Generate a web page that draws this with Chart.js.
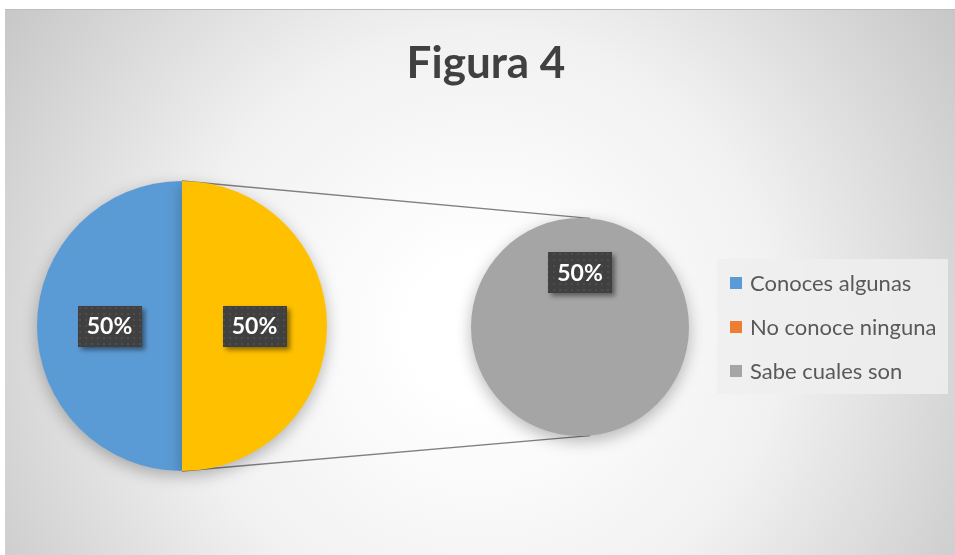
<!DOCTYPE html>
<html>
<head>
<meta charset="utf-8">
<script src="https://cdn.jsdelivr.net/npm/chart.js@4.4.1/dist/chart.umd.min.js"></script>
<style>
  html, body { margin: 0; padding: 0; background: #ffffff; }
  #wrap { position: relative; width: 955px; height: 555px; overflow: hidden; background: #ffffff; }
  #panel { position: absolute; left: 5px; top: 9px; width: 950px; height: 546px;
    background: radial-gradient(circle at 475px 320px, #ffffff 0px, #ffffff 70px, #f1f1f1 300px, #c6c6c6 580px);
    border-top: 1px solid #bdbdbd; box-sizing: border-box; }
  canvas.layer { position: absolute; left: 0; top: 0; }
</style>
</head>
<body>
<div id="wrap">
  <div id="panel"></div>
  <canvas id="cB" class="layer" width="955" height="555"></canvas>
  <canvas id="cA" class="layer" width="955" height="555"></canvas>
</div>
<script>
// ---- data ----
const chartTitle = 'Figura 4';
const categories = ['Conoces algunas', 'No conoce ninguna', 'Sabe cuales son'];
const values = [50, 0, 50];
const seriesColors = ['#5B9BD5', '#ED7D31', '#A5A5A5'];
const secondaryCategories = ['Sabe cuales son'];   // split into the second pie
const otherLabel = 'Otros';
const otherColor = '#FFC000';

// ---- derived ----
const total = values.reduce((a, b) => a + b, 0);
const primaryIdx = categories.map((c, i) => i).filter(i => !secondaryCategories.includes(categories[i]));
const secondaryIdx = categories.map((c, i) => i).filter(i => secondaryCategories.includes(categories[i]));
const primaryLabels = primaryIdx.map(i => categories[i]).concat([otherLabel]);
const primaryValues = primaryIdx.map(i => values[i]).concat([secondaryIdx.reduce((s, i) => s + values[i], 0)]);
const primaryColors = primaryIdx.map(i => seriesColors[i]).concat([otherColor]);
const secondaryLabels = secondaryIdx.map(i => categories[i]);
const secondaryValues = secondaryIdx.map(i => values[i]);
const secondaryColors = secondaryIdx.map(i => seriesColors[i]);

// dotted dark pattern for the data label boxes
const patCanvas = document.createElement('canvas');
patCanvas.width = 6; patCanvas.height = 6;
const pctx = patCanvas.getContext('2d');
pctx.fillStyle = '#404040'; pctx.fillRect(0, 0, 6, 6);
pctx.fillStyle = '#4d4d4d'; pctx.fillRect(1, 1, 2, 2);
let labelPattern = null;

const pieShadow = {
  id: 'pieShadow',
  beforeDatasetsDraw(chart) {
    const ctx = chart.ctx;
    ctx.save();
    ctx.shadowColor = 'rgba(0,0,0,0.28)';
    ctx.shadowBlur = 16;
    ctx.shadowOffsetY = 5;
  },
  afterDatasetsDraw(chart) { chart.ctx.restore(); }
};

const pctLabels = {
  id: 'pctLabels',
  afterDatasetsDraw(chart) {
    const ctx = chart.ctx;
    if (!labelPattern) labelPattern = ctx.createPattern(patCanvas, 'repeat');
    const meta = chart.getDatasetMeta(0);
    const ds = chart.data.datasets[0];
    meta.data.forEach((arc, i) => {
      const v = ds.data[i];
      if (!v) return;
      const p = arc.tooltipPosition();
      const txt = Math.round(v / total * 100) + '%';
      ctx.save();
      ctx.font = 'bold 23px Lato, "Open Sans", sans-serif';
      const w = ctx.measureText(txt).width + 18;
      const h = 41;
      ctx.shadowColor = 'rgba(0,0,0,0.45)';
      ctx.shadowBlur = 5; ctx.shadowOffsetX = 3; ctx.shadowOffsetY = 3;
      ctx.fillStyle = labelPattern;
      ctx.fillRect(Math.round(p.x - w / 2), Math.round(p.y - h / 2), Math.round(w), h);
      ctx.shadowColor = 'transparent';
      ctx.fillStyle = '#ffffff';
      ctx.textAlign = 'center';
      ctx.textBaseline = 'middle';
      ctx.fillText(txt, p.x, p.y + 1);
      ctx.restore();
    });
  }
};

function pieOptions(padding) {
  return {
    responsive: false,
    animation: false,
    events: [],
    rotation: 180,
    layout: { padding },
    plugins: { legend: { display: false }, title: { display: false }, tooltip: { enabled: false } },
    elements: { arc: { borderWidth: 0, hoverBorderWidth: 0, hoverOffset: 0, offset: 0 } }
  };
}

// left (primary) pie
const chartA = new Chart(document.getElementById('cA'), {
  type: 'pie',
  data: { labels: primaryLabels, datasets: [{ data: primaryValues, backgroundColor: primaryColors }] },
  options: pieOptions({ left: 37, top: 181, right: 628, bottom: 84 }),
  plugins: [pieShadow, pctLabels]
});

// decorations on the lower layer: title, legend, connector lines
const decorations = {
  id: 'decorations',
  beforeDatasetsDraw(chart) {
    const ctx = chart.ctx;
    // title
    ctx.save();
    ctx.font = 'bold 44px Lato, "Open Sans", sans-serif';
    ctx.fillStyle = '#404040';
    ctx.textAlign = 'center';
    ctx.textBaseline = 'alphabetic';
    ctx.fillText(chartTitle, 486, 78);
    ctx.restore();

    // legend box
    ctx.save();
    ctx.fillStyle = 'rgba(238,238,238,0.85)';
    ctx.fillRect(717, 259, 231, 135);
    ctx.font = '22px Lato, "Open Sans", sans-serif';
    ctx.textBaseline = 'middle';
    ctx.textAlign = 'left';
    categories.forEach((c, i) => {
      const y = 283 + i * 44;
      ctx.fillStyle = seriesColors[i];
      ctx.fillRect(730, y - 6, 12, 12);
      ctx.fillStyle = '#595959';
      ctx.fillText(c, 750, y + 1);
    });
    ctx.restore();

    // connector lines between the pies
    const a = chartA.getDatasetMeta(0).data[0];
    const b = chart.getDatasetMeta(0).data[0];
    if (a && b) {
      ctx.save();
      ctx.strokeStyle = '#7f7f7f';
      ctx.lineWidth = 1.3;
      ctx.beginPath();
      ctx.moveTo(a.x, a.y - a.outerRadius);
      ctx.lineTo(b.x + 10, b.y - Math.sqrt(b.outerRadius * b.outerRadius - 100));
      ctx.moveTo(a.x, a.y + a.outerRadius);
      ctx.lineTo(b.x + 10, b.y + Math.sqrt(b.outerRadius * b.outerRadius - 100));
      ctx.stroke();
      ctx.restore();
    }
  }
};

// right (secondary) pie
const chartB = new Chart(document.getElementById('cB'), {
  type: 'pie',
  data: { labels: secondaryLabels, datasets: [{ data: secondaryValues, backgroundColor: secondaryColors }] },
  options: pieOptions({ left: 471, top: 218, right: 266, bottom: 119 }),
  plugins: [decorations, pieShadow, pctLabels]
});
</script>
</body>
</html>
